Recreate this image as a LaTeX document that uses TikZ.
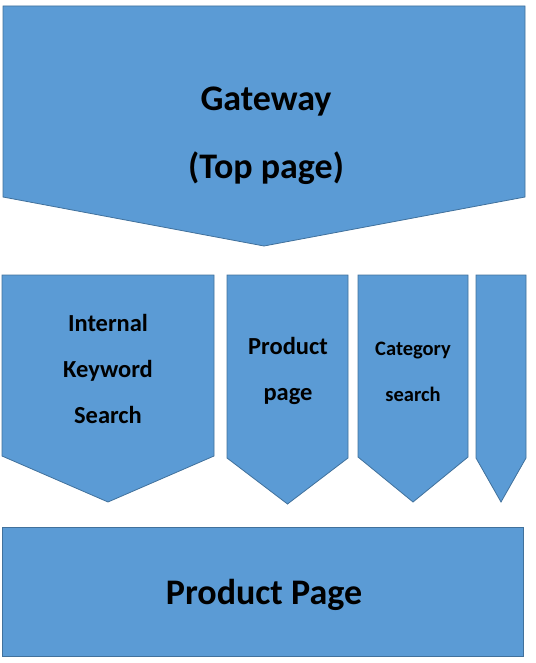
\documentclass[tikz,border=0pt]{standalone}
\usepackage{fontspec}
\setmainfont{Carlito}
\usepackage{xcolor}
\usepackage{tikz}

\definecolor{boxblue}{HTML}{5B9BD5}
\definecolor{boxline}{HTML}{41719C}

% down-pointing chevron: left x, right x, top y, shoulder y, tip y
\newcommand{\chevron}[5]{%
  \path[chev] (#1,#3) -- (#2,#3) -- (#2,#4) -- ({(#1+#2)/2},#5) -- (#1,#4) -- cycle;}

\begin{document}
\begin{tikzpicture}[x=1pt, y=-1pt,
    chev/.style={fill=boxblue, draw=boxline, line width=0.8pt},
    bigtxt/.style={align=center, font=\fontsize{36}{68}\selectfont\bfseries},
    midtxt/.style={align=center, font=\fontsize{24.5}{46}\selectfont\bfseries},
    smalltxt/.style={align=center, font=\fontsize{20.5}{46}\selectfont\bfseries}]
    \useasboundingbox (0,0) rectangle (535,663);

    % top level
    \chevron{3}{525}{6}{197}{246}
    \node[bigtxt] (gateway) at (266,136) {Gateway\\(Top page)};

    % entry routes
    \chevron{2}{214}{275}{456}{502}
    \chevron{227}{348}{275}{458}{504}
    \chevron{358}{468}{275}{457}{502}
    \chevron{476}{526}{275}{458}{502}
    \node[midtxt] (keyword) at (108,369) {Internal\\Keyword\\Search};
    \node[midtxt] (prodlink) at (288,371) {Product\\page};
    \node[smalltxt] (category) at (413,372) {Category\\search};

    % target
    \path[chev] (2,527) rectangle (523,656);
    \node[bigtxt] (product) at (264,595) {Product Page};
  \end{tikzpicture}
\end{document}
